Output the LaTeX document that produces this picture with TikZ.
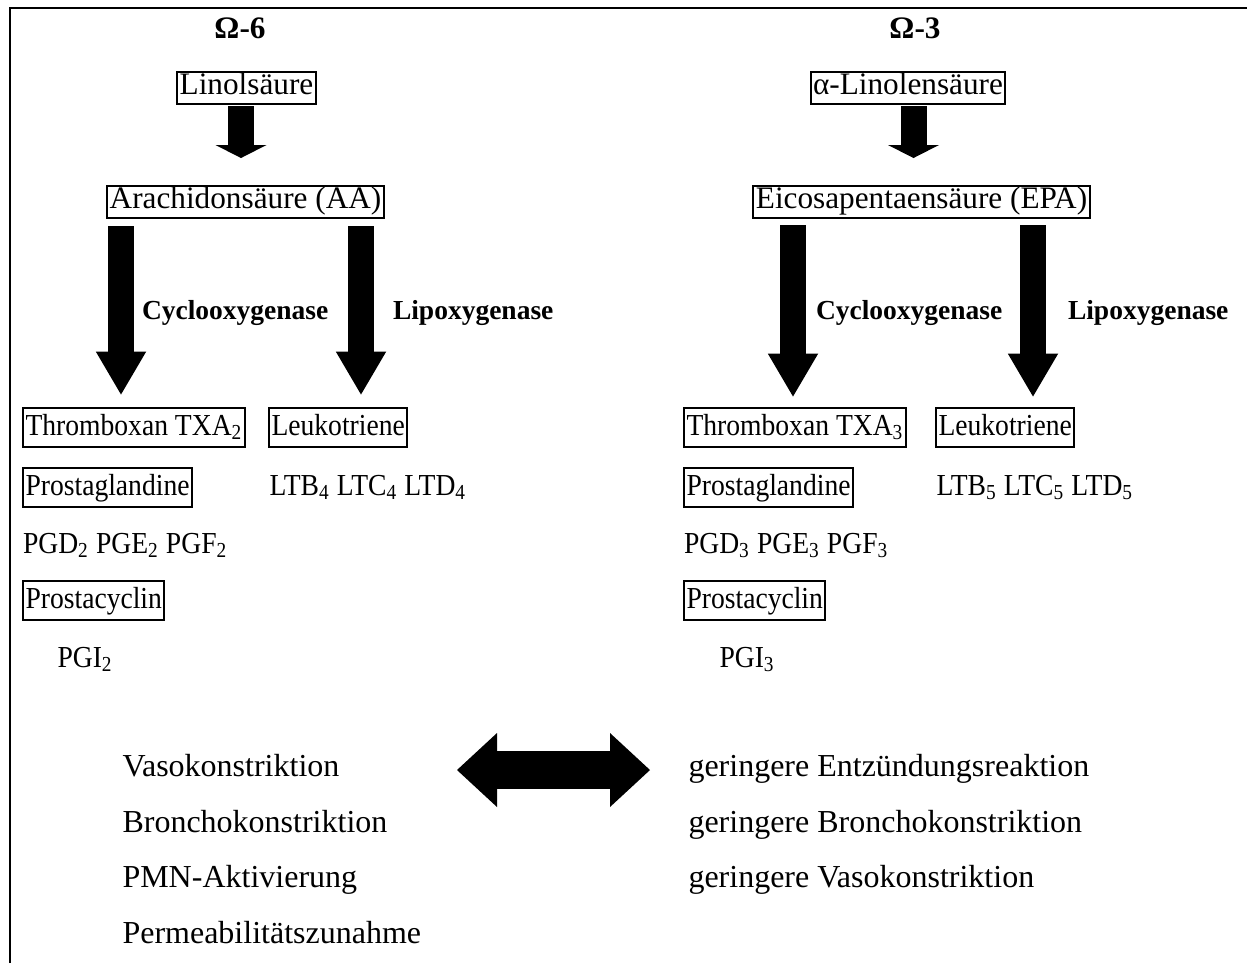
\documentclass[tikz,border=0pt]{standalone}
\usepackage{fontspec}
\setmainfont{Liberation Serif}
\newfontfamily\rowfont[FakeStretch=0.905]{Liberation Serif}
\usetikzlibrary{arrows.meta, positioning, calc}
\tikzset{x=0.4pt, y=-0.4pt, every node/.style={font=\fontsize{12.5}{15}\selectfont, inner xsep=1pt, inner ysep=1.4pt, text height=0.75em, text depth=0.25em},
	box/.style={draw, line width=0.8pt, anchor=west}, txt/.style={anchor=west},
	row/.style={font=\rowfont\fontsize{12.2}{15}\selectfont, text height=9.6pt, text depth=3.2pt}, effect/.style={anchor=west, font=\fontsize{12.8}{15}\selectfont},
	omega/.style={font=\fontsize{12.5}{15}\selectfont\bfseries}, enzyme/.style={anchor=west, font=\fontsize{11}{13}\selectfont\bfseries},
	smallarrow/.style={line width=10.4pt, -{Triangle[width=20.4pt, length=5.2pt, line width=0pt]}},
	bigarrow/.style={line width=10.2pt, -{Triangle[width=20.2pt, length=17.2pt, line width=0pt]}},
	dblarrow/.style={line width=15.2pt, {Triangle[width=29.6pt, length=16pt, line width=0pt]}-{Triangle[width=29.6pt, length=16pt, line width=0pt]}}}

\begin{document}
\begin{tikzpicture}
	\useasboundingbox (0,0) rectangle (1247,963);
	\draw[line width=0.8pt] (10,963) -- (10,8) -- (1247,8);

	% Omega-6
	\node[omega] (Om6) at (240,32) {Ω-6};
	\node[box, anchor=center] (Lin) at (246.5,88) {Linolsäure};
	\node[box, anchor=center] (AA) at (245.5,202) {Arachidonsäure (AA)};
	\node[enzyme] (Cox6) at (139,313) {Cyclooxygenase};
	\node[enzyme] (Lox6) at (390,313) {Lipoxygenase};
	\node[box, row] (TXA2) at (22,427) {Thromboxan TXA\textsubscript{2}};
	\node[box, row] (LT4) at (268,427) {Leukotriene};
	\node[box, row] (PG2) at (22,487) {Prostaglandine};
	\node[txt, row] (LTB4) at (266.5,487) {LTB\textsubscript{4} LTC\textsubscript{4} LTD\textsubscript{4}};
	\node[txt, row] (PGD2) at (20,545) {PGD\textsubscript{2} PGE\textsubscript{2} PGF\textsubscript{2}};
	\node[box, row] (PC2) at (22,600) {Prostacyclin};
	\node[txt, row] (PGI2) at (54.5,659) {PGI\textsubscript{2}};

	% Omega-3
	\node[omega] (Om3) at (915,32) {Ω-3};
	\node[box, anchor=center] (ALin) at (908,88) {α-Linolensäure};
	\node[box, anchor=center] (EPA) at (921.5,202) {Eicosapentaensäure (EPA)};
	\node[enzyme] (Cox3) at (813,313) {Cyclooxygenase};
	\node[enzyme] (Lox3) at (1065,313) {Lipoxygenase};
	\node[box, row] (TXA3) at (683,427) {Thromboxan TXA\textsubscript{3}};
	\node[box, row] (LT5) at (935,427) {Leukotriene};
	\node[box, row] (PG3) at (683,487) {Prostaglandine};
	\node[txt, row] (LTB5) at (933.5,487) {LTB\textsubscript{5} LTC\textsubscript{5} LTD\textsubscript{5}};
	\node[txt, row] (PGD3) at (681,545) {PGD\textsubscript{3} PGE\textsubscript{3} PGF\textsubscript{3}};
	\node[box, row] (PC3) at (683,600) {Prostacyclin};
	\node[txt, row] (PGI3) at (716.5,659) {PGI\textsubscript{3}};

	% effects
	\node[effect] (Vaso) at (119.5,770) {Vasokonstriktion};
	\node[effect] (Broncho) at (119.5,826) {Bronchokonstriktion};
	\node[effect] (PMN) at (119.5,881) {PMN-Aktivierung};
	\node[effect] (Perm) at (119.5,937) {Permeabilitätszunahme};
	\node[effect] (Ger1) at (685.5,770) {geringere Entzündungsreaktion};
	\node[effect] (Ger2) at (685.5,826) {geringere Bronchokonstriktion};
	\node[effect] (Ger3) at (685.5,881) {geringere Vasokonstriktion};

	\coordinate (AAleft) at ([shift={(-124.5,7)}]AA.south);
	\coordinate (AAright) at ([shift={(115.5,7)}]AA.south);
	\coordinate (EPAleft) at ([shift={(-128.5,6)}]EPA.south);
	\coordinate (EPAright) at ([shift={(111.5,6)}]EPA.south);

	\draw[smallarrow] ([shift={(-5.5,1)}]Lin.south) -- ([shift={(-4.5,-27)}]AA.north);
	\draw[smallarrow] ([shift={(5.5,1)}]ALin.south) -- ([shift={(-8,-27)}]EPA.north);
	\draw[bigarrow] (AAleft) -- ($(AAleft |- TXA2.north)+(0,-12)$);
	\draw[bigarrow] (AAright) -- ($(AAright |- LT4.north)+(0,-12)$);
	\draw[bigarrow] (EPAleft) -- ($(EPAleft |- TXA3.north)+(0,-10)$);
	\draw[bigarrow] (EPAright) -- ($(EPAright |- LT5.north)+(0,-10)$);
	\draw[dblarrow] ([shift={(337.5,0)}]Vaso.west) -- ([shift={(-35.5,0)}]Ger1.west);
\end{tikzpicture}
\end{document}
